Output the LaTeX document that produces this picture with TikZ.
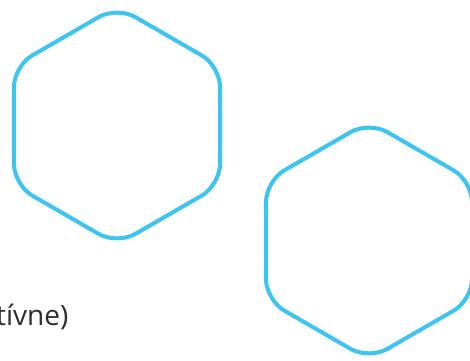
\documentclass[tikz,border=0pt]{standalone}
\usepackage{fontspec}
\setmainfont{Open Sans}
\definecolor{hexcyan}{RGB}{61,196,240}
\definecolor{txtgray}{RGB}{45,45,45}
\tikzset{
  hexline/.style={draw=hexcyan, line width=4pt, rounded corners=21pt, line join=round},
  lbl/.style={inner sep=0pt, text=txtgray, font=\fontsize{28}{33}\selectfont}
}
\newcommand{\hexat}[2]{%
  \draw[hexline] ($(#1,#2)+(0:103)$) -- ($(#1,#2)+(30:119)$) -- ($(#1,#2)+(90:119)$) -- ($(#1,#2)+(150:119)$) -- ($(#1,#2)+(210:119)$) -- ($(#1,#2)+(270:119)$) -- ($(#1,#2)+(330:119)$) -- cycle;}
\usetikzlibrary{calc}
\begin{document}
\begin{tikzpicture}[x=1pt,y=1pt]
\useasboundingbox (0,0) rectangle (470,360);
\clip (0,0) rectangle (470,360);
\hexat{117}{234.5}
\hexat{369}{119.5}
\node[lbl, anchor=base east] (t) at (68.5,35) {tívne)};
\end{tikzpicture}
\end{document}
